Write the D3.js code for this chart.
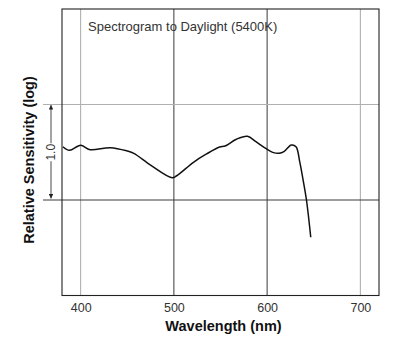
<!DOCTYPE html>
<html>
<head>
<meta charset="utf-8">
<script src="https://cdn.jsdelivr.net/npm/d3@7"></script>
<style>
  html, body { margin: 0; padding: 0; background: #fff; }
  svg { display: block; }
  text { font-family: "Liberation Sans", Arial, Helvetica, sans-serif; }
</style>
</head>
<body>
<svg id="chart" width="406" height="342"></svg>
<script>
// ---- data ----
const wavelengths = [381, 388, 400, 410, 432, 450, 457, 475, 498, 503, 521, 535, 549, 555, 567, 579, 588, 599, 606, 613, 618, 626, 631, 635, 638.6, 642.2, 646.8];
const logSensitivity = [0.558, 0.52, 0.573, 0.527, 0.548, 0.513, 0.489, 0.366, 0.234, 0.254, 0.395, 0.482, 0.555, 0.565, 0.636, 0.667, 0.61, 0.537, 0.499, 0.489, 0.506, 0.576, 0.558, 0.40, 0.209, 0.0, -0.39];
const xTicks = [400, 500, 600, 700];
const refLevels = [0, 1];
const titleText = "Spectrogram to Daylight (5400K)";
const xTitle = "Wavelength (nm)";
const yTitle = "Relative Sensitivity (log)";
const spanLabel = "1.0";

// ---- layout ----
const svg = d3.select("#chart");
const pLeft = 62, pRight = 379, pTop = 9, pBottom = 295.5;
const x = d3.scaleLinear().domain([380, 720]).range([pLeft, pRight]);
const y = d3.scaleLinear().domain([-1, 2]).range([pBottom, pTop]);

// vertical grid lines
svg.append("g").selectAll("line").data(xTicks).join("line")
  .attr("x1", d => x(d)).attr("x2", d => x(d))
  .attr("y1", pTop).attr("y2", pBottom)
  .attr("stroke", d => (d === 400 || d === 700) ? "#a8a8a8" : "#3a3a3a")
  .attr("stroke-width", 1);

// horizontal reference lines (extend left of frame)
svg.append("g").selectAll("line").data(refLevels).join("line")
  .attr("x1", 43).attr("x2", pRight)
  .attr("y1", d => y(d)).attr("y2", d => y(d))
  .attr("stroke", d => d === 1 ? "#b0b0b0" : "#3a3a3a")
  .attr("stroke-width", 1);

// frame
svg.append("rect")
  .attr("x", pLeft).attr("y", pTop)
  .attr("width", pRight - pLeft).attr("height", pBottom - pTop)
  .attr("fill", "none").attr("stroke", "#222").attr("stroke-width", 1.1);

// x tick labels
const xAxis = d3.axisBottom(x).tickValues(xTicks).tickSize(0).tickPadding(0);
const gx = svg.append("g").attr("transform", `translate(0,${pBottom})`).call(xAxis);
gx.select(".domain").remove();
gx.selectAll("text")
  .attr("y", 16).attr("dy", 0)
  .attr("font-size", 12.5)
  .attr("fill", "#333")
  .style("font-family", '"Liberation Sans", Arial, sans-serif');

// span arrow with 1.0 label
const ax = 51;
const defs = svg.append("defs");
defs.append("marker").attr("id", "arr")
  .attr("viewBox", "0 0 10 10").attr("refX", 10).attr("refY", 5)
  .attr("markerWidth", 8).attr("markerHeight", 4.5).attr("markerUnits", "userSpaceOnUse")
  .attr("orient", "auto")
  .append("path").attr("d", "M0,0 L10,5 L0,10 Z").attr("fill", "#222");
const mid = (y(0) + y(1)) / 2;
svg.append("line")
  .attr("x1", ax).attr("x2", ax).attr("y1", mid - 9).attr("y2", y(1) + 0.5)
  .attr("stroke", "#333").attr("stroke-width", 0.9).attr("marker-end", "url(#arr)");
svg.append("line")
  .attr("x1", ax).attr("x2", ax).attr("y1", mid + 9).attr("y2", y(0) - 1.5)
  .attr("stroke", "#333").attr("stroke-width", 0.9).attr("marker-end", "url(#arr)");
svg.append("text")
  .attr("transform", `translate(${ax + 4},${mid}) rotate(-90)`)
  .attr("text-anchor", "middle")
  .attr("font-size", 12).attr("fill", "#333")
  .text(spanLabel);

// curve
const pts = wavelengths.map((w, i) => [w, logSensitivity[i]]);
const line = d3.line().x(d => x(d[0])).y(d => y(d[1])).curve(d3.curveCatmullRom.alpha(0.5));
svg.append("path").datum(pts)
  .attr("d", line).attr("fill", "none")
  .attr("stroke", "#111").attr("stroke-width", 1.5);

// inner title
svg.append("text")
  .attr("x", 88).attr("y", 31)
  .attr("font-size", 13).attr("fill", "#333")
  .text(titleText);

// axis titles
svg.append("text")
  .attr("x", (pLeft + pRight) / 2 + 3).attr("y", 330.5)
  .attr("text-anchor", "middle")
  .attr("font-size", 14.5).attr("font-weight", "bold").attr("fill", "#111")
  .text(xTitle);
svg.append("text")
  .attr("transform", `translate(33.5,160) rotate(-90)`)
  .attr("text-anchor", "middle")
  .attr("font-size", 14.5).attr("font-weight", "bold").attr("fill", "#111")
  .text(yTitle);
</script>
</body>
</html>
